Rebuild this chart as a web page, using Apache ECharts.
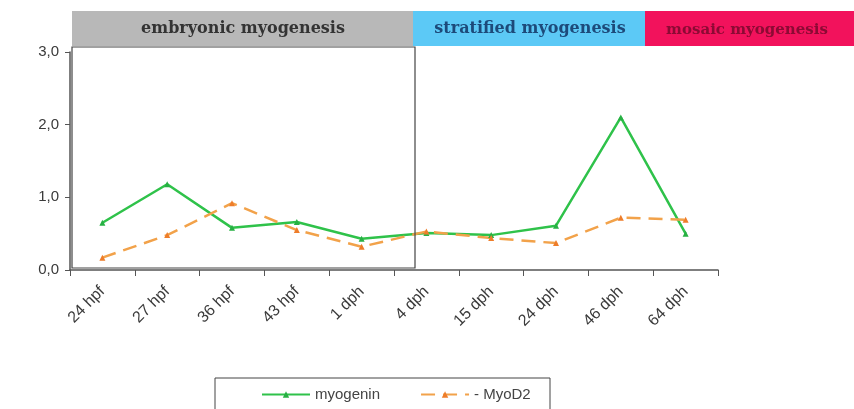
<!DOCTYPE html>
<html><head><meta charset="utf-8">
<script src="https://cdn.jsdelivr.net/npm/echarts@6/dist/echarts.min.js"></script>
<style>html,body{margin:0;padding:0;background:#fff}#c{width:854px;height:409px}</style>
</head><body><div id="c"></div>
<script>
const categories = ['24 hpf','27 hpf','36 hpf','43 hpf','1 dph','4 dph','15 dph','24 dph','46 dph','64 dph'];
const myogenin = [0.65, 1.18, 0.58, 0.66, 0.43, 0.51, 0.48, 0.61, 2.10, 0.50];
const myoD2 = [0.17, 0.48, 0.92, 0.55, 0.32, 0.53, 0.44, 0.37, 0.72, 0.69];
const yTicks = ['0,0','1,0','2,0','3,0'];
const phases = ['embryonic myogenesis','stratified myogenesis','mosaic myogenesis'];

const chart = echarts.init(document.getElementById('c'));
const font = 'Liberation Sans, Arial, sans-serif';
chart.setOption({
  animation: false,
  backgroundColor: '#fff',
  grid: {left: 70, right: 136, top: 52, bottom: 139},
  xAxis: {
    type: 'category', data: categories, boundaryGap: true,
    axisLine: {lineStyle: {color: '#555', width: 1.5}},
    axisTick: {show: true, length: 6, lineStyle: {color: '#555'}},
    axisLabel: {rotate: 45, color: '#3a3a3a', fontSize: 16, fontFamily: font, margin: 19, interval: 0}
  },
  yAxis: {
    type: 'value', min: 0, max: 3, interval: 1,
    axisLine: {show: true, lineStyle: {color: '#555', width: 1.5}},
    axisTick: {show: true, length: 5, lineStyle: {color: '#555'}},
    splitLine: {show: false},
    axisLabel: {color: '#3a3a3a', fontSize: 15, fontFamily: font, margin: 11,
      formatter: v => yTicks[Math.round(v)]}
  },
  legend: {
    left: 256, top: 382, itemWidth: 48, itemHeight: 8, itemGap: 40,
    textStyle: {fontSize: 15, color: '#444', fontFamily: font},
    data: ['myogenin', 'MyoD2'],
    formatter: n => n === 'MyoD2' ? '- MyoD2' : n
  },
  series: [
    {name: 'myogenin', type: 'line', data: myogenin, symbol: 'triangle', symbolSize: 6,
     lineStyle: {color: '#2fc24a', width: 2.5}, itemStyle: {color: '#27b043'}},
    {name: 'MyoD2', type: 'line', data: myoD2, symbol: 'triangle', symbolSize: 6,
     lineStyle: {color: '#f2a24a', width: 2.5, type: [14, 8]}, itemStyle: {color: '#ee7d2a'}}
  ],
  graphic: [
    {type: 'rect', shape: {x: 72, y: 11, width: 341, height: 35}, style: {fill: '#b8b8b8'}, z: -1},
    {type: 'rect', shape: {x: 413, y: 11, width: 232, height: 35}, style: {fill: '#5cc9f6'}, z: -1},
    {type: 'rect', shape: {x: 645, y: 11, width: 209, height: 35}, style: {fill: '#f2125c'}, z: -1},
    {type: 'text', x: 243, y: 29, style: {text: phases[0], font: 'bold 16px "DejaVu Serif", serif', fill: '#333', align: 'center', verticalAlign: 'middle'}},
    {type: 'text', x: 530, y: 29, style: {text: phases[1], font: 'bold 16px "DejaVu Serif", serif', fill: '#1d4a7a', align: 'center', verticalAlign: 'middle'}},
    {type: 'text', x: 747, y: 30, style: {text: phases[2], font: 'bold 15px "DejaVu Serif", serif', fill: '#8c0a34', align: 'center', verticalAlign: 'middle'}},
    {type: 'rect', shape: {x: 72, y: 47, width: 343, height: 221}, style: {fill: 'none', stroke: '#444', lineWidth: 1.2}, z: 10},
    {type: 'rect', shape: {x: 215, y: 378, width: 335, height: 40}, style: {fill: 'none', stroke: '#444', lineWidth: 1}}
  ]
});
</script></body></html>
